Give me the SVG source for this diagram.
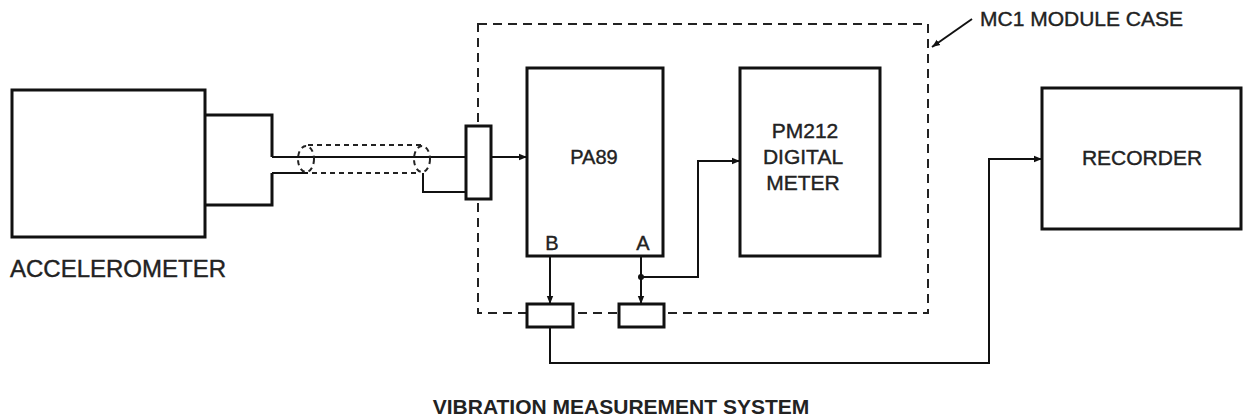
<svg xmlns="http://www.w3.org/2000/svg" width="1244" height="418" viewBox="0 0 1244 418">
<style>
.box{fill:none;stroke:#111;stroke-width:3}
.conn{fill:#fff;stroke:#111;stroke-width:3}
.wire{fill:none;stroke:#111;stroke-width:2}
.dash{fill:none;stroke:#222;stroke-width:2;stroke-dasharray:9 6}
.sdash{fill:none;stroke:#222;stroke-width:2;stroke-dasharray:5 4}
.lbl{font-family:"Liberation Sans",Arial,sans-serif;fill:#222;stroke:#222;stroke-width:0.4}
</style>
<defs>
<marker id="arr" viewBox="0 0 10 10" refX="10" refY="5" markerWidth="8" markerHeight="8" markerUnits="userSpaceOnUse" orient="auto">
<path d="M0,1 L10,5 L0,9 Z" fill="#111"/>
</marker>
</defs>
<rect width="1244" height="418" fill="#fff"/>
<g id="module-case">
<rect class="dash" x="478" y="24" width="450" height="289"/>
<line class="wire" x1="972" y1="19" x2="932" y2="47" marker-end="url(#arr)"/>
<text class="lbl" x="980" y="26" font-size="21">MC1 MODULE CASE</text>
</g>
<g id="accelerometer">
<rect class="box" x="12" y="90" width="193" height="147"/>
<path class="box" d="M205,115 H272 V157 M272,173 V205 H205"/>
<text class="lbl" x="10" y="277" font-size="24">ACCELEROMETER</text>
</g>
<g id="input-connector">
<rect class="conn" x="466" y="126" width="25" height="73"/>
</g>
<g id="pa89">
<rect class="box" x="527" y="68" width="136" height="188"/>
<text class="lbl" x="594" y="164" font-size="20" text-anchor="middle">PA89</text>
<text class="lbl" x="552" y="250" font-size="20" text-anchor="middle">B</text>
<text class="lbl" x="643" y="250" font-size="20" text-anchor="middle">A</text>
</g>
<g id="pm212">
<rect class="box" x="740" y="68" width="140" height="188"/>
<text class="lbl" x="805" y="138" font-size="21" text-anchor="middle">PM212</text>
<text class="lbl" x="803" y="164" font-size="21" text-anchor="middle">DIGITAL</text>
<text class="lbl" x="803" y="190" font-size="21" text-anchor="middle">METER</text>
</g>
<g id="recorder">
<rect class="box" x="1042" y="88" width="199" height="141"/>
<text class="lbl" x="1142" y="165" font-size="21" text-anchor="middle">RECORDER</text>
</g>
<g id="connector-b">
<rect class="conn" x="527" y="304" width="46" height="23"/>
</g>
<g id="connector-a">
<rect class="conn" x="619" y="304" width="45" height="23"/>
</g>
<g id="title">
<text class="lbl" x="621" y="414" font-size="21" font-weight="bold" text-anchor="middle" fill="#111" style="stroke-width:0">VIBRATION MEASUREMENT SYSTEM</text>
</g>
<g id="connectors">
<line class="wire" x1="272" y1="157" x2="466" y2="157"/>
<line class="wire" x1="272" y1="173" x2="308" y2="173"/>
<line class="sdash" x1="308" y1="145" x2="425" y2="145"/>
<line class="sdash" x1="312" y1="173" x2="418" y2="173"/>
<ellipse class="sdash" cx="306" cy="159" rx="8" ry="13"/>
<ellipse class="sdash" cx="422" cy="159" rx="8" ry="13"/>
<path class="wire" d="M423,173 V192 H466"/>
<line class="wire" x1="491" y1="157" x2="527" y2="157" marker-end="url(#arr)"/>
<line class="wire" x1="550" y1="256" x2="550" y2="304" marker-end="url(#arr)"/>
<line class="wire" x1="641" y1="256" x2="641" y2="304" marker-end="url(#arr)"/>
<circle cx="641" cy="277" r="3" fill="#111"/>
<path class="wire" d="M641,277 H698 V161 H740" marker-end="url(#arr)"/>
<path class="wire" d="M550,327 V363 H989 V159 H1042" marker-end="url(#arr)"/>
</g>
</svg>
